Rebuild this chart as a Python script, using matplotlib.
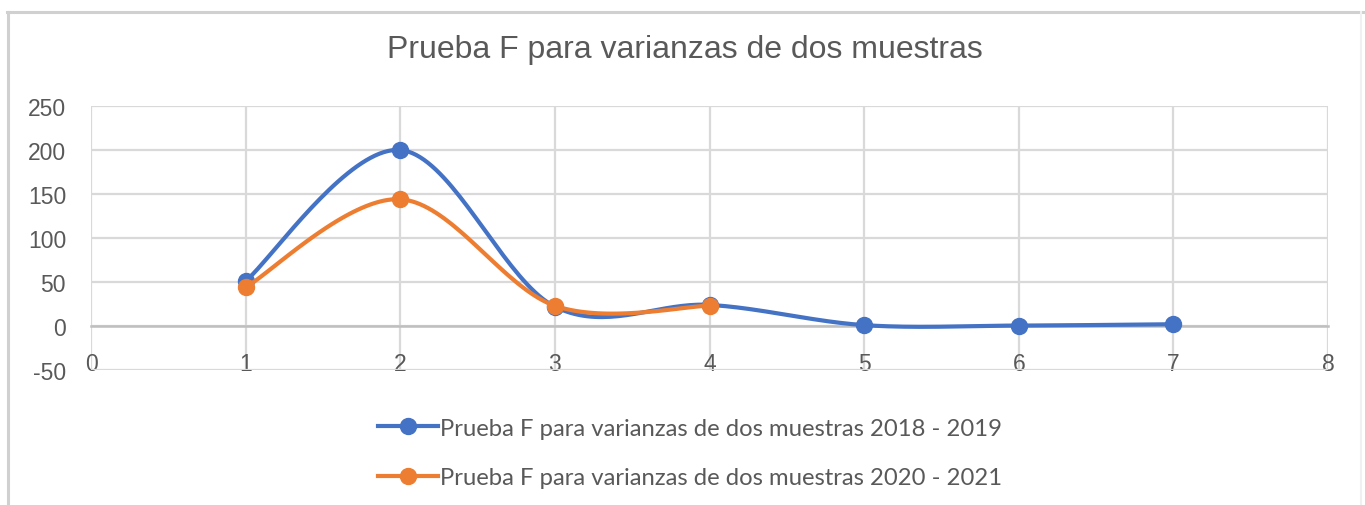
import numpy as np
import matplotlib
matplotlib.use("Agg")
import matplotlib.pyplot as plt
from matplotlib.lines import Line2D

plt.rcParams["axes.unicode_minus"] = False

# data
x_1819 = [1, 2, 3, 4, 5, 6, 7]
y_1819 = [51, 200, 22, 24, 1, 0.5, 2]
x_2021 = [1, 2, 3, 4]
y_2021 = [44, 144, 23, 23]

labels = ["Prueba F para varianzas de dos muestras 2018 - 2019",
          "Prueba F para varianzas de dos muestras 2020 - 2021"]
title = "Prueba F para varianzas de dos muestras"

blue = "#4472C4"
orange = "#ED7D31"
grid = "#D9D9D9"
txt = "#595959"


# Excel-style smoothed line (cardinal bezier between the points)
def smooth(xs, ys, n=40):
    p = np.column_stack([xs, ys]).astype(float)
    p = np.vstack([p[0], p, p[-1]])
    out = []
    for i in range(1, len(p) - 2):
        p0, p1, p2, p3 = p[i - 1], p[i], p[i + 1], p[i + 2]
        c1 = p1 + (p2 - p0) / 6.0
        c2 = p2 - (p3 - p1) / 6.0
        t = np.linspace(0, 1, n)[:, None]
        seg = ((1 - t) ** 3) * p1 + 3 * ((1 - t) ** 2) * t * c1 + 3 * (1 - t) * t ** 2 * c2 + t ** 3 * p2
        out.append(seg)
    s = np.vstack(out)
    return s[:, 0], s[:, 1]


fig = plt.figure(figsize=(13.65, 5.06), dpi=100)
ax = fig.add_axes([91 / 1365, 1 - 371 / 506, (1328 - 91) / 1365, (371 - 107) / 506])

# outer chart frame
W, H = 1365, 506
fig.add_artist(Line2D([7.5 / W, 7.5 / W], [0, 1 - 13 / H], color="#D0D0D0", lw=2.2, transform=fig.transFigure))
fig.add_artist(Line2D([7 / W, 1], [1 - 13 / H, 1 - 13 / H], color="#D0D0D0", lw=2.2, transform=fig.transFigure))
fig.add_artist(Line2D([1361 / W, 1361 / W], [0, 1 - 13 / H], color="#F0F0F0", lw=1.5, transform=fig.transFigure))

ax.set_xlim(0, 8)
ax.set_ylim(-50, 250)
ax.set_xticks(range(0, 9))
ax.set_yticks(range(-50, 251, 50))
ax.grid(True, color=grid, lw=1.6, zorder=0)
ax.set_axisbelow(True)

for s in ["top", "right", "left"]:
    ax.spines[s].set_visible(False)
ax.spines["bottom"].set_position(("data", 0))
ax.spines["bottom"].set_color("#BFBFBF")
ax.spines["bottom"].set_linewidth(1.8)
ax.tick_params(axis="both", length=0, labelsize=16.5, labelcolor=txt)
ax.tick_params(axis="x", pad=19)
ax.tick_params(axis="y", pad=18)
for lab in ax.get_xticklabels() + ax.get_yticklabels():
    lab.set_fontfamily("Liberation Sans")

sx, sy = smooth(x_1819, y_1819)
ax.plot(sx, sy, color=blue, lw=3, zorder=3, solid_capstyle="round")
ax.plot(x_1819, y_1819, "o", color=blue, ms=11.5, zorder=4)
sx, sy = smooth(x_2021, y_2021)
ax.plot(sx, sy, color=orange, lw=3, zorder=5, solid_capstyle="round")
ax.plot(x_2021, y_2021, "o", color=orange, ms=11.5, zorder=6)

fig.text(0.502, 1 - 50 / H, title, ha="center", va="center", fontsize=23,
         color=txt, fontfamily="Liberation Sans")

handles = [Line2D([], [], color=blue, lw=3, marker="o", ms=11.5),
           Line2D([], [], color=orange, lw=3, marker="o", ms=11.5)]
leg = fig.legend(handles, labels, loc="center", bbox_to_anchor=(690 / W, 1 - 454 / H),
                 ncol=1, frameon=False, handlelength=2.5, handletextpad=0.1,
                 labelspacing=1.2, prop={"family": "Lato", "size": 17.2})
for t in leg.get_texts():
    t.set_color(txt)

fig.savefig("out.png", dpi=100, facecolor="white")
